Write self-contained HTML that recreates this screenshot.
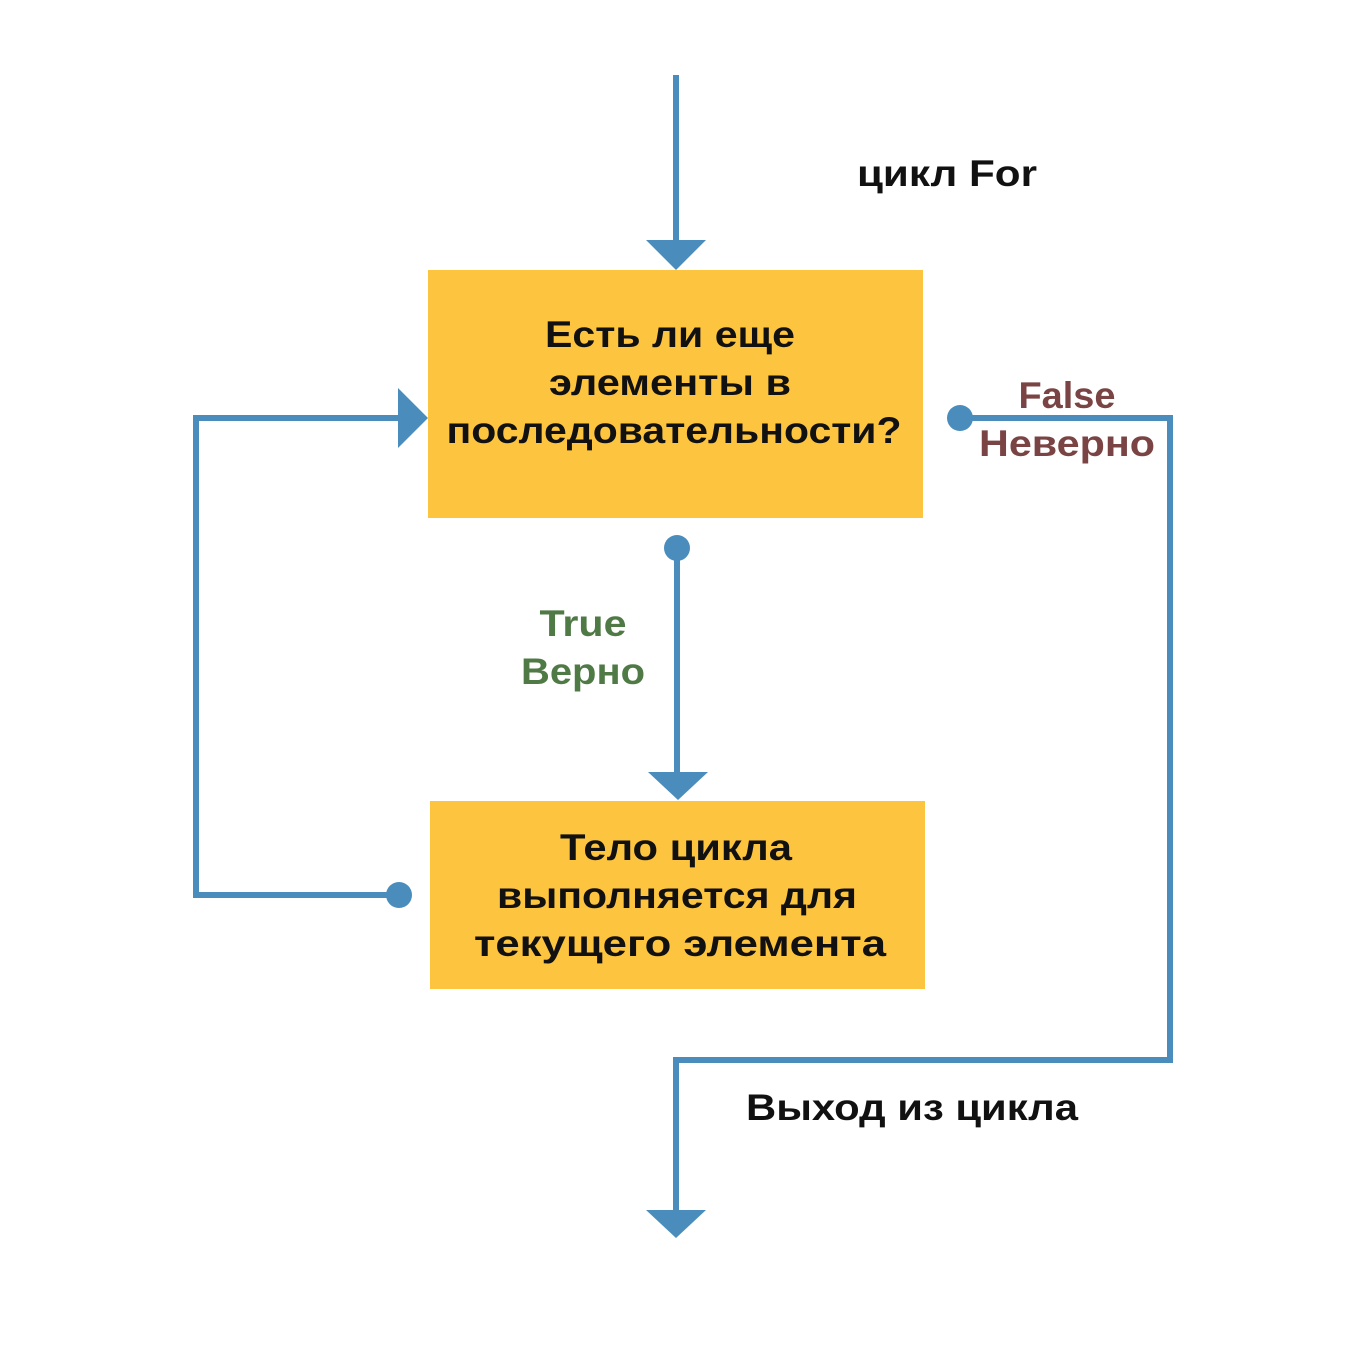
<!DOCTYPE html>
<html><head><meta charset="utf-8"><style>
html,body{margin:0;padding:0;background:#fff;}
svg text{font-family:"Liberation Sans",sans-serif;font-weight:bold;}
</style></head><body>
<svg width="1363" height="1357" viewBox="0 0 1363 1357" xmlns="http://www.w3.org/2000/svg">
<g stroke="#4a8dbd" stroke-width="6" fill="none">
<line x1="676" y1="75" x2="676" y2="244"/>
<line x1="677" y1="548" x2="677" y2="776"/>
<polyline points="960,418 1170,418 1170,1060 676,1060 676,1214"/>
<polyline points="399,895 196,895 196,418 402,418"/>
</g>
<g fill="#4a8dbd">
<polygon points="646,240 706,240 676,270"/>
<polygon points="648,772 708,772 678,800"/>
<polygon points="646,1210 706,1210 676,1238"/>
<polygon points="398,388 428,418 398,448"/>
<circle cx="960" cy="418" r="13"/>
<circle cx="677" cy="548" r="13"/>
<circle cx="399" cy="895" r="13"/>
</g>
<rect x="428" y="270" width="495" height="248" fill="#fdc43f"/>
<rect x="430" y="801" width="495" height="188" fill="#fdc43f"/>
<g font-size="37" text-anchor="middle" fill="#111">
<text x="670" y="347" textLength="250" lengthAdjust="spacingAndGlyphs">Есть ли еще</text>
<text x="670" y="395" textLength="242" lengthAdjust="spacingAndGlyphs">элементы в</text>
<text x="674" y="443" textLength="455" lengthAdjust="spacingAndGlyphs">последовательности?</text>
<text x="676" y="860" textLength="232" lengthAdjust="spacingAndGlyphs">Тело цикла</text>
<text x="677" y="908" textLength="360" lengthAdjust="spacingAndGlyphs">выполняется для</text>
<text x="680" y="956" textLength="412" lengthAdjust="spacingAndGlyphs">текущего элемента</text>
</g>
<g font-size="37" fill="#111">
<text x="857" y="186" textLength="180" lengthAdjust="spacingAndGlyphs">цикл For</text>
<text x="746" y="1120" textLength="332" lengthAdjust="spacingAndGlyphs">Выход из цикла</text>
</g>
<g font-size="37" text-anchor="middle" fill="#7a4444">
<text x="1067" y="408" textLength="97" lengthAdjust="spacingAndGlyphs">False</text>
<text x="1067" y="456" textLength="176" lengthAdjust="spacingAndGlyphs">Неверно</text>
</g>
<g font-size="37" text-anchor="middle" fill="#4f7a46">
<text x="583" y="636" textLength="87" lengthAdjust="spacingAndGlyphs">True</text>
<text x="583" y="684" textLength="124" lengthAdjust="spacingAndGlyphs">Верно</text>
</g>
</svg>
</body></html>
